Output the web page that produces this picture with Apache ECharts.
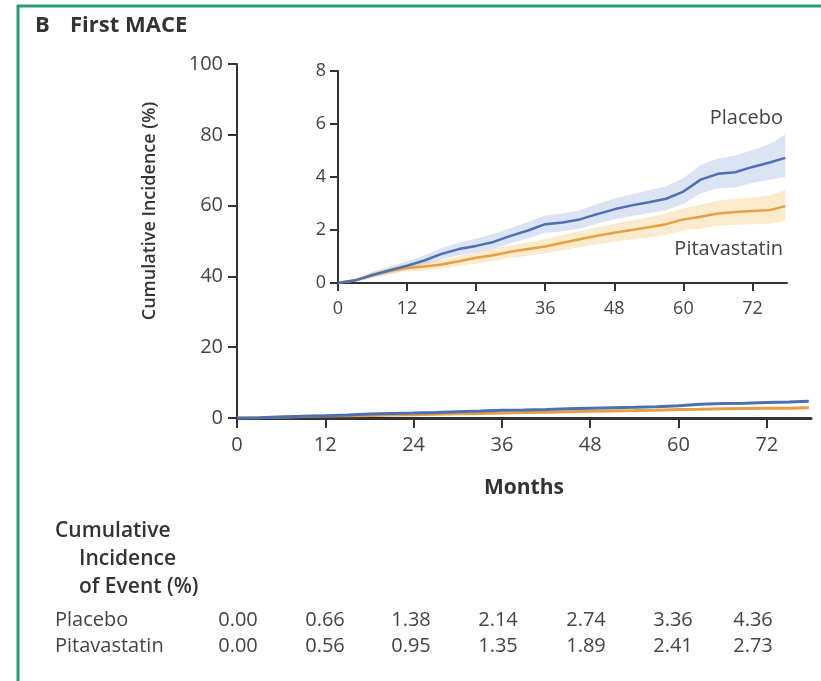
<!DOCTYPE html>
<html><head><meta charset="utf-8">
<script src="https://cdn.jsdelivr.net/npm/echarts@6/dist/echarts.min.js"></script>
<style>html,body{margin:0;padding:0;background:#fff}#c{width:821px;height:681px}</style>
</head><body><div id="c"></div>
<script>
const months = [0,3,6,9,12,15,18,21,24,27,30,33,36,39,42,45,48,51,54,57,60,63,66,69,72,75,77.7];
const placebo = [0,0.1,0.3,0.48,0.65,0.85,1.1,1.28,1.4,1.55,1.78,1.98,2.22,2.28,2.4,2.6,2.78,2.93,3.05,3.18,3.45,3.9,4.12,4.18,4.38,4.55,4.72];
const placeboLow = [0,0.05,0.2,0.35,0.5,0.68,0.9,1.05,1.15,1.28,1.5,1.68,1.9,1.95,2.05,2.25,2.4,2.53,2.63,2.75,2.98,3.38,3.58,3.6,3.78,3.9,4.0];
const placeboHigh = [0,0.15,0.42,0.62,0.82,1.05,1.32,1.52,1.68,1.85,2.08,2.3,2.55,2.62,2.75,2.98,3.18,3.35,3.5,3.65,3.95,4.45,4.7,4.8,5.02,5.25,5.6];
const pitavastatin = [0,0.1,0.3,0.45,0.57,0.62,0.7,0.82,0.95,1.05,1.18,1.28,1.38,1.52,1.65,1.78,1.9,2.0,2.1,2.22,2.4,2.5,2.62,2.68,2.72,2.75,2.9];
const pitaLow = [0,0.05,0.2,0.33,0.43,0.47,0.54,0.64,0.75,0.83,0.95,1.03,1.12,1.24,1.35,1.46,1.56,1.64,1.72,1.82,1.98,2.06,2.15,2.2,2.22,2.24,2.35];
const pitaHigh = [0,0.15,0.4,0.58,0.72,0.78,0.87,1.01,1.16,1.28,1.42,1.53,1.65,1.81,1.95,2.1,2.24,2.36,2.48,2.62,2.82,2.95,3.1,3.17,3.23,3.3,3.5];
const xTicks = [0,12,24,36,48,60,72];
const mainYTicks = [0,20,40,60,80,100];
const insetYTicks = [0,2,4,6,8];
const tableLabels = ['Placebo','Pitavastatin'];
const tablePlacebo = ['0.00','0.66','1.38','2.14','2.74','3.36','4.36'];
const tablePita = ['0.00','0.56','0.95','1.35','1.89','2.41','2.73'];

const FONT = '"Open Sans", sans-serif';
const BLUE = '#4d6fb3', ORANGE = '#e6a043';
const pair = (xs, ys) => xs.map((x, i) => [x, ys[i]]);

function xAxisCfg(gi, fs, lw, tickLen, margin) {
  return {
    type: 'value', gridIndex: gi, min: 0, max: 78, interval: 12,
    axisLine: {show: true, onZero: false, lineStyle: {color: '#333', width: lw}},
    axisTick: {show: true, length: tickLen, customValues: xTicks, lineStyle: {color: '#333', width: 2}},
    axisLabel: {customValues: xTicks, color: '#444', fontSize: fs, fontFamily: FONT, margin: margin},
    splitLine: {show: false}
  };
}
function yAxisCfg(gi, max, interval, ticks, fs, tickLen, margin) {
  return {
    type: 'value', gridIndex: gi, min: 0, max: max, interval: interval,
    axisLine: {show: true, onZero: false, lineStyle: {color: '#333', width: 2}},
    axisTick: {show: true, length: tickLen, customValues: ticks, lineStyle: {color: '#333', width: 2}},
    axisLabel: {customValues: ticks, color: '#444', fontSize: fs, fontFamily: FONT, margin: margin},
    splitLine: {show: false}
  };
}
function bandSeries(lo, hi, color) {
  return {
    type: 'custom', xAxisIndex: 1, yAxisIndex: 1, silent: true, z: 1,
    data: months.map((m, i) => [m, lo[i], hi[i]]),
    encode: {x: 0, y: [1, 2]},
    renderItem: function (params, api) {
      if (params.dataIndex !== 0) return null;
      const upper = [], lower = [];
      for (let i = 0; i < months.length; i++) {
        upper.push(api.coord([months[i], hi[i]]));
        lower.push(api.coord([months[i], lo[i]]));
      }
      return {type: 'polygon', shape: {points: upper.concat(lower.reverse())}, style: {fill: color}};
    }
  };
}

const series = [];
series.push({type: 'line', xAxisIndex: 0, yAxisIndex: 0, data: pair(months, pitavastatin), showSymbol: false, lineStyle: {color: ORANGE, width: 3}, z: 3});
series.push({type: 'line', xAxisIndex: 0, yAxisIndex: 0, data: pair(months, placebo), showSymbol: false, lineStyle: {color: BLUE, width: 3}, z: 3});
series.push(bandSeries(placeboLow, placeboHigh, 'rgba(120,145,215,0.26)'));
series.push(bandSeries(pitaLow, pitaHigh, 'rgba(245,190,100,0.32)'));
series.push({type: 'line', xAxisIndex: 1, yAxisIndex: 1, data: pair(months, pitavastatin), showSymbol: false, lineStyle: {color: ORANGE, width: 2.5}, z: 3});
series.push({type: 'line', xAxisIndex: 1, yAxisIndex: 1, data: pair(months, placebo), showSymbol: false, lineStyle: {color: BLUE, width: 2.5}, z: 3});

const colX = [238, 325, 411, 498, 586, 673, 753];
const graphic = [
  {type: 'line', shape: {x1: 17, y1: 6, x2: 821, y2: 6}, style: {stroke: '#2a9a74', lineWidth: 3}},
  {type: 'line', shape: {x1: 18, y1: 5, x2: 18, y2: 681}, style: {stroke: '#2a9a74', lineWidth: 3}},
  {type: 'text', x: 35, y: 26, style: {text: 'B', font: 'bold 22px ' + FONT, fill: '#333', verticalAlign: 'middle'}},
  {type: 'text', x: 70, y: 26, style: {text: 'First MACE', font: 'bold 22px ' + FONT, fill: '#333', verticalAlign: 'middle'}},
  {type: 'text', x: 150, y: 211, rotation: Math.PI / 2, style: {text: 'Cumulative Incidence (%)', font: '600 18px ' + FONT, fill: '#333', align: 'center', verticalAlign: 'middle'}},
  {type: 'text', x: 783, y: 118, style: {text: 'Placebo', font: '20px ' + FONT, fill: '#444', align: 'right', verticalAlign: 'middle'}},
  {type: 'text', x: 783, y: 249, style: {text: 'Pitavastatin', font: '20px ' + FONT, fill: '#444', align: 'right', verticalAlign: 'middle'}},
  {type: 'text', x: 55, y: 531, style: {text: 'Cumulative', font: '600 21px ' + FONT, fill: '#333', verticalAlign: 'middle'}},
  {type: 'text', x: 79, y: 559, style: {text: 'Incidence', font: '600 21px ' + FONT, fill: '#333', verticalAlign: 'middle'}},
  {type: 'text', x: 79, y: 587, style: {text: 'of Event (%)', font: '600 21px ' + FONT, fill: '#333', verticalAlign: 'middle'}},
  {type: 'text', x: 55, y: 620, style: {text: tableLabels[0], font: '20px ' + FONT, fill: '#444', verticalAlign: 'middle'}},
  {type: 'text', x: 55, y: 646, style: {text: tableLabels[1], font: '20px ' + FONT, fill: '#444', verticalAlign: 'middle'}}
];
tablePlacebo.forEach((t, i) => graphic.push({type: 'text', x: colX[i], y: 620, style: {text: t, font: '20px ' + FONT, fill: '#444', align: 'center', verticalAlign: 'middle'}}));
tablePita.forEach((t, i) => graphic.push({type: 'text', x: colX[i], y: 646, style: {text: t, font: '20px ' + FONT, fill: '#444', align: 'center', verticalAlign: 'middle'}}));

const chart = echarts.init(document.getElementById('c'), null, {renderer: 'canvas'});
chart.setOption({
  animation: false,
  backgroundColor: '#fff',
  grid: [
    {left: 237, top: 64, width: 574, height: 354, outerBoundsMode: 'none', containLabel: false},
    {left: 338, top: 71, width: 449, height: 212, outerBoundsMode: 'none', containLabel: false}
  ],
  xAxis: [
    Object.assign(xAxisCfg(0, 20, 3, 10, 17), {name: 'Months', nameLocation: 'middle', nameGap: 60, nameTextStyle: {fontFamily: FONT, fontSize: 21, fontWeight: 'bold', color: '#333'}}),
    xAxisCfg(1, 18, 2, 8, 17)
  ],
  yAxis: [
    yAxisCfg(0, 100, 20, mainYTicks, 20, 9, 14),
    yAxisCfg(1, 8, 2, insetYTicks, 18, 8, 12)
  ],
  series: series,
  graphic: graphic
});
</script></body></html>
